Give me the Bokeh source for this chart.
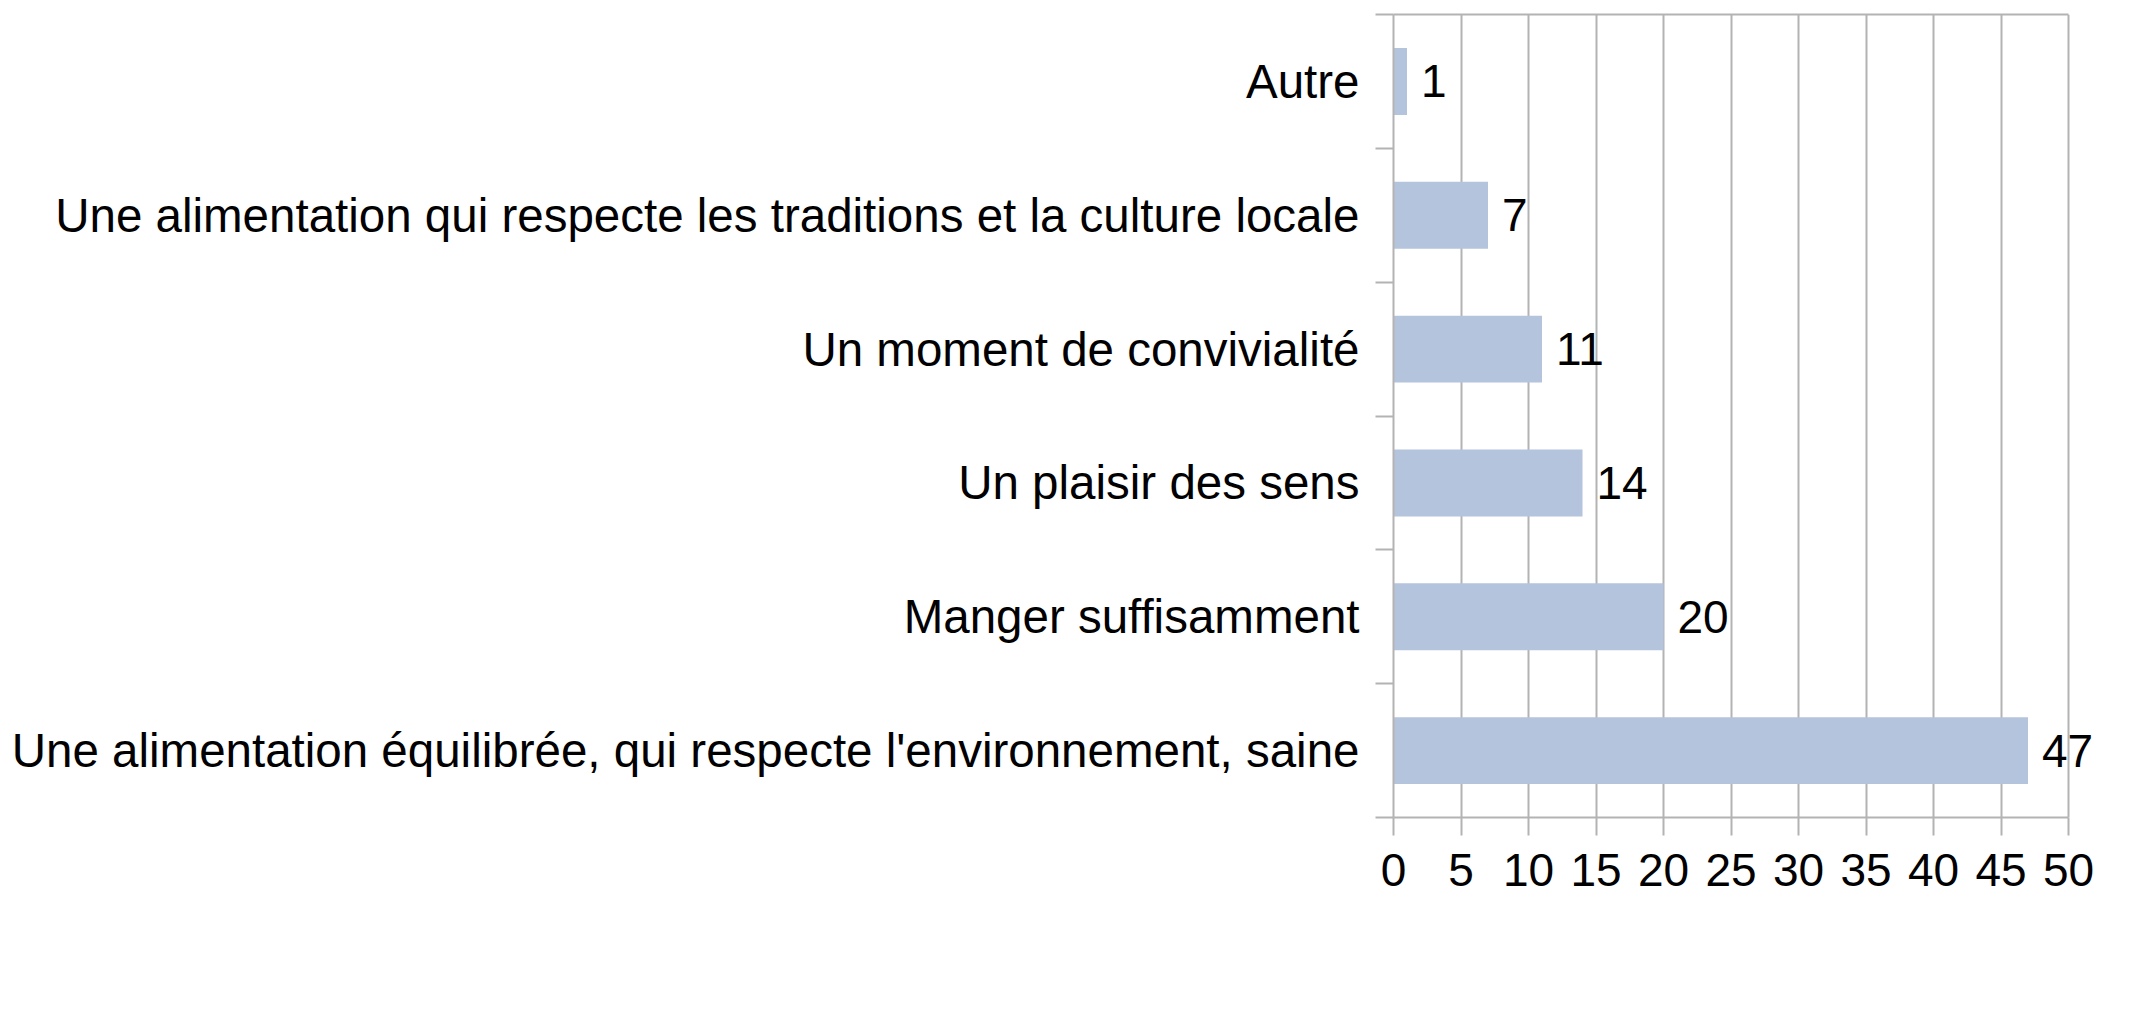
from bokeh.plotting import figure
from bokeh.layouts import column
from bokeh.models import (Range1d, FixedTicker, ColumnDataSource, Legend, LegendItem,
                          LabelSet, LinearAxis)
from bokeh.core.properties import value
from bokeh.embed import file_html
from bokeh.resources import INLINE

# ---- data (bottom to top) ----
categories = [
    "Une alimentation équilibrée, qui respecte l'environnement, saine",
    "Manger suffisamment",
    "Un plaisir des sens",
    "Un moment de convivialité",
    "Une alimentation qui respecte les traditions et la culture locale",
    "Autre",
]
values = [47, 20, 14, 11, 7, 1]
x_ticks = [0, 5, 10, 15, 20, 25, 30, 35, 40, 45, 50]
series_name = "% de répondants"

FONT = "Liberation Sans"
GREY = "#b3b3b3"
BAR = "#b4c4dd"

n = len(categories)
positions = list(range(n))
edges = [i - 0.5 for i in positions] + [n - 0.5]
x_lo, x_hi = x_ticks[0], x_ticks[-1]

src = ColumnDataSource(dict(
    y=positions,
    v=values,
    lbl=[str(v) for v in values],
))

# ---------------- main chart ----------------
p = figure(
    width=2135, height=927,
    frame_width=702, frame_height=803,
    min_border_left=1393, min_border_right=40,
    min_border_top=14, min_border_bottom=110,
    x_range=Range1d(x_lo, 52), y_range=Range1d(-0.5, n - 0.5),
    output_backend="svg", toolbar_location=None,
)
p.background_fill_color = "white"
p.border_fill_color = "white"
p.outline_line_color = None

bars = p.hbar(y="y", right="v", left=0, height=0.5, source=src,
              fill_color=BAR, line_color=None)

labels = LabelSet(x="v", y="y", text="lbl", source=src, x_offset=14,
                  text_baseline="middle", text_align="left",
                  text_font=value(FONT), text_font_size=value("46px"),
                  text_color="#000000")
p.add_layout(labels)

# x axis
xa = p.xaxis[0]
xa.ticker = FixedTicker(ticks=x_ticks)
xa.bounds = (x_lo, x_hi)
xa.axis_line_color = GREY
xa.axis_line_width = 2
xa.major_tick_line_color = GREY
xa.major_tick_line_width = 2
xa.major_tick_out = 18
xa.major_tick_in = 0
xa.minor_tick_line_color = None
xa.major_label_standoff = 18
xa.major_label_text_font = FONT
xa.major_label_text_font_size = "46px"
xa.major_label_text_color = "#000000"

# top border line of the plot wall
top = LinearAxis(ticker=FixedTicker(ticks=[]), bounds=(x_lo, x_hi),
                 axis_line_color=GREY, axis_line_width=2,
                 major_tick_line_color=None, minor_tick_line_color=None,
                 major_tick_out=0, major_tick_in=0, major_label_standoff=0,
                 major_label_text_font_size="0px")
p.add_layout(top, "above")

# y axis
ya = p.yaxis[0]
ya.ticker = FixedTicker(ticks=positions, minor_ticks=edges)
ya.major_label_overrides = {i: c for i, c in zip(positions, categories)}
ya.axis_line_color = GREY
ya.axis_line_width = 2
ya.major_tick_line_color = None
ya.major_tick_out = 0
ya.major_tick_in = 0
ya.minor_tick_line_color = GREY
ya.minor_tick_line_width = 2
ya.minor_tick_out = 18
ya.minor_tick_in = 0
ya.major_label_standoff = 16
ya.major_label_text_font = FONT
ya.major_label_text_font_size = "47.5px"
ya.major_label_text_color = "#000000"

p.xgrid.ticker = FixedTicker(ticks=x_ticks)
p.xgrid.grid_line_color = GREY
p.xgrid.grid_line_width = 2
p.ygrid.grid_line_color = None

# ---------------- legend strip ----------------
p2 = figure(
    width=2135, height=82,
    min_border_left=885, min_border_right=0, min_border_top=35, min_border_bottom=0,
    x_range=Range1d(0, 1), y_range=Range1d(0, 1),
    x_axis_location=None, y_axis_location=None,
    output_backend="svg", toolbar_location=None,
)
p2.outline_line_color = None
p2.xgrid.grid_line_color = None
p2.ygrid.grid_line_color = None
p2.background_fill_color = "white"
p2.border_fill_color = "white"

# same series, not drawn in the strip: it only feeds the legend swatch
legend_glyph = p2.hbar(y="y", right="v", left=0, height=0.5, source=src,
                       fill_color=BAR, line_color=None, visible=False)

legend = Legend(
    items=[LegendItem(label=series_name, renderers=[legend_glyph], index=0)],
    location=(-512, -8),
    orientation="horizontal",
    glyph_width=35, glyph_height=34,
    label_standoff=10,
    label_text_font=FONT, label_text_font_size="46px", label_text_color="#000000",
    padding=0, margin=0, spacing=0,
    border_line_color=None, background_fill_alpha=0,
)
p2.add_layout(legend, "center")

layout = column(p, p2, spacing=0)

open("out.html", "w").write(file_html(layout, INLINE))
